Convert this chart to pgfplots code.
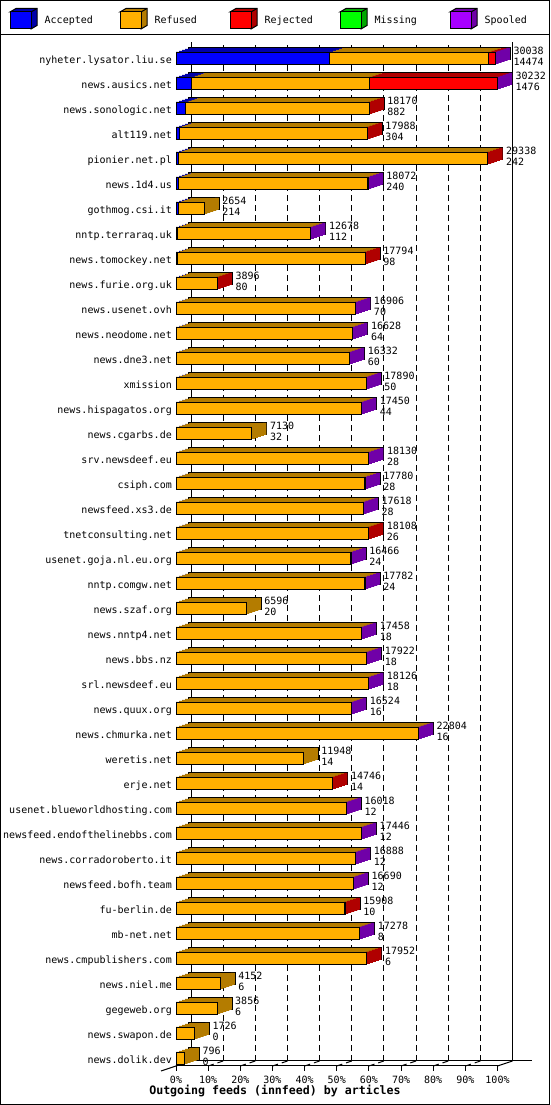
\documentclass[border=0pt]{standalone}
\usepackage{pgfplots}
\pgfplotsset{compat=1.18}
\usepackage{pgfplotstable}
\usepackage{fontspec}
\setmainfont{DejaVu Sans Mono}

\definecolor{accF}{RGB}{0,0,255}
\definecolor{accD}{RGB}{0,0,170}
\definecolor{refF}{RGB}{255,176,0}
\definecolor{refD}{RGB}{180,124,0}
\definecolor{rejF}{RGB}{255,0,0}
\definecolor{rejD}{RGB}{176,0,0}
\definecolor{misF}{RGB}{0,255,0}
\definecolor{misD}{RGB}{0,168,0}
\definecolor{spoF}{RGB}{168,0,255}
\definecolor{spoD}{RGB}{112,0,168}

% pos: 0 = bottom row; sO/sR/sP = 1 marks the colour of the 3D side face (last segment)
\pgfplotstableread{
pos name acc ref rej mis spo total sO sR sP
0 news.dolik.dev 0 796 0 0 0 796 1 0 0
1 news.swapon.de 0 1726 0 0 0 1726 1 0 0
2 gegeweb.org 6 3850 0 0 0 3856 1 0 0
3 news.niel.me 6 4146 0 0 0 4152 1 0 0
4 news.cmpublishers.com 6 17926 20 0 0 17952 0 1 0
5 mb-net.net 8 17250 0 0 20 17278 0 0 1
6 fu-berlin.de 10 15878 20 0 0 15908 0 1 0
7 newsfeed.bofh.team 12 16658 0 0 20 16690 0 0 1
8 news.corradoroberto.it 12 16856 0 0 20 16888 0 0 1
9 newsfeed.endofthelinebbs.com 12 17414 0 0 20 17446 0 0 1
10 usenet.blueworldhosting.com 12 15986 0 0 20 16018 0 0 1
11 erje.net 14 14712 20 0 0 14746 0 1 0
12 weretis.net 14 11934 0 0 0 11948 1 0 0
13 news.chmurka.net 16 22768 0 0 20 22804 0 0 1
14 news.quux.org 16 16488 0 0 20 16524 0 0 1
15 srl.newsdeef.eu 18 18088 0 0 20 18126 0 0 1
16 news.bbs.nz 18 17884 0 0 20 17922 0 0 1
17 news.nntp4.net 18 17420 0 0 20 17458 0 0 1
18 news.szaf.org 20 6576 0 0 0 6596 1 0 0
19 nntp.comgw.net 24 17738 0 0 20 17782 0 0 1
20 usenet.goja.nl.eu.org 24 16422 0 0 20 16466 0 0 1
21 tnetconsulting.net 26 18062 20 0 0 18108 0 1 0
22 newsfeed.xs3.de 28 17570 0 0 20 17618 0 0 1
23 csiph.com 28 17732 0 0 20 17780 0 0 1
24 srv.newsdeef.eu 28 18082 0 0 20 18130 0 0 1
25 news.cgarbs.de 32 7098 0 0 0 7130 1 0 0
26 news.hispagatos.org 44 17386 0 0 20 17450 0 0 1
27 xmission 50 17820 0 0 20 17890 0 0 1
28 news.dne3.net 60 16252 0 0 20 16332 0 0 1
29 news.neodome.net 64 16544 0 0 20 16628 0 0 1
30 news.usenet.ovh 70 16816 0 0 20 16906 0 0 1
31 news.furie.org.uk 80 3796 20 0 0 3896 0 1 0
32 news.tomockey.net 98 17676 20 0 0 17794 0 1 0
33 nntp.terraraq.uk 112 12546 0 0 20 12678 0 0 1
34 gothmog.csi.it 214 2440 0 0 0 2654 1 0 0
35 news.1d4.us 240 17812 0 0 20 18072 0 0 1
36 pionier.net.pl 242 29076 20 0 0 29338 0 1 0
37 alt119.net 304 17664 20 0 0 17988 0 1 0
38 news.sonologic.net 882 17268 20 0 0 18170 0 1 0
39 news.ausics.net 1476 16709 12017 0 30 30232 0 0 1
40 nyheter.lysator.liu.se 14474 14901 633 0 30 30038 0 0 1
}\data

\pgfplotsset{
  base/.style={anchor=south west, scale only axis, width=321.5pt, height=1019pt,
    xmin=0, xmax=30232, ymin=-0.28, ymax=40.48, enlargelimits=false, clip=false,
    bar width=12pt, scaled x ticks=false, scaled y ticks=false},
}

% one slice of the extruded (3D) part of the bars
\newcommand{\backcopy}[2]{%
\begin{axis}[base, at={(#1,#2)}, hide axis, xbar stacked]
\addplot[fill=accD, draw=none] table[x=acc, y=pos]{\data};
\addplot[fill=refD, draw=none] table[x=ref, y=pos]{\data};
\addplot[fill=rejD, draw=none] table[x=rej, y=pos]{\data};
\addplot[fill=misD, draw=none] table[x=mis, y=pos]{\data};
\addplot[fill=spoD, draw=none] table[x=spo, y=pos]{\data};
\addplot[fill=refD, draw=none] table[x expr=\thisrow{sO}*282, y=pos]{\data};
\addplot[fill=rejD, draw=none] table[x expr=\thisrow{sR}*282, y=pos]{\data};
\addplot[fill=spoD, draw=none] table[x expr=\thisrow{sP}*282, y=pos]{\data};
\end{axis}}

% side-face patch of one slice (covers seams)
\newcommand{\sidepatch}[3]{%
\begin{axis}[base, at={(#1,#2)}, hide axis, xbar stacked]
\addplot[draw=none, fill=none] table[x expr=\thisrow{total}-94, y=pos]{\data};
\addplot[fill=refD, draw=none] table[x expr=\thisrow{sO}*#3, y=pos]{\data};
\addplot[fill=rejD, draw=none] table[x expr=\thisrow{sR}*#3, y=pos]{\data};
\addplot[fill=spoD, draw=none] table[x expr=\thisrow{sP}*#3, y=pos]{\data};
\end{axis}}

\begin{document}
\begin{tikzpicture}[x=1pt, y=1pt, font=\fontsize{10}{12}\selectfont]
\useasboundingbox (0,0) rectangle (550,1105);

% back wall: grid lines and floor
\begin{axis}[base, at={(191pt,44pt)}, axis line style={draw=none}, ytick=\empty,
  xtick={3023.2,6046.4,9069.6,12092.8,15116,18139.2,21162.4,24185.6,27208.8},
  xticklabels={}, tick style={draw=none}, major tick length=0pt,
  xmajorgrids, grid style={black, line width=1pt, dash pattern=on 6pt off 4pt},
  extra x ticks={0,30232}, extra x tick labels={},
  extra x tick style={grid=major, grid style={solid, black, line width=1pt}}]
\addplot[draw=none, mark=none] coordinates {(0,0)};
\draw[line width=1pt] (axis cs:0,-0.28) -- ++(341pt,0pt);
\draw[line width=1pt] (axis cs:30232,-0.28) -- ++(-15pt,-5pt);
\draw[line width=1pt] (axis cs:0,-0.28) -- ++(-30pt,-10pt);
\pgfplotsinvokeforeach{3023.2,6046.4,9069.6,12092.8,15116,18139.2,21162.4,24185.6,27208.8}{
  \draw[line width=1pt, dash pattern=on 6pt off 4pt] (axis cs:#1,-0.28) -- ++(-15pt,-5pt);
}
\end{axis}

% extruded 3D part of the bars
\backcopy{188pt}{44pt}
\begin{axis}[base, at={(188pt,44pt)}, hide axis, xbar]
\addplot[fill=none, draw=black, line width=1pt] table[x expr=\thisrow{total}+282, y=pos]{\data};
\end{axis}
\backcopy{185pt}{43pt}
\backcopy{182pt}{42pt}
\backcopy{179pt}{41pt}
\backcopy{176pt}{40pt}
\sidepatch{188pt}{44pt}{329}
\sidepatch{185pt}{43pt}{376}
\sidepatch{182pt}{42pt}{376}
\sidepatch{179pt}{41pt}{376}
\sidepatch{176pt}{40pt}{376}

% front faces
\begin{axis}[base, at={(176pt,39pt)}, xbar stacked,
  axis lines*=left, y axis line style={draw=none}, x axis line style={black, line width=1pt},
  xtick={0,3023.2,6046.4,9069.6,12092.8,15116,18139.2,21162.4,24185.6,27208.8,30232},
  xticklabels={0\%,10\%,20\%,30\%,40\%,50\%,60\%,70\%,80\%,90\%,100\%},
  ytick={0,...,40}, yticklabels from table={\data}{name},
  tick align=outside, major tick length=5pt,
  xtick style={black, line width=1pt}, ytick style={draw=none},
  ticklabel style={font=\fontsize{10}{12}\selectfont},
  yticklabel style={anchor=base east, inner sep=0pt, xshift=1pt, yshift=-4.3pt},
  xticklabel style={anchor=base, inner sep=0pt, yshift=-12.4pt}]
\addplot[fill=accF, draw=black, line width=1pt] table[x=acc, y=pos]{\data};
\addplot[fill=refF, draw=black, line width=1pt] table[x=ref, y=pos]{\data};
\addplot[fill=rejF, draw=black, line width=1pt] table[x=rej, y=pos]{\data};
\addplot[fill=misF, draw=black, line width=1pt] table[x=mis, y=pos]{\data};
\addplot[fill=spoF, draw=black, line width=1pt] table[x=spo, y=pos]{\data};
\end{axis}

% value labels
\begin{axis}[base, at={(176pt,39pt)}, hide axis]
\addplot[draw=none, mark=none, nodes near coords, point meta=explicit symbolic,
  every node near coord/.append style={anchor=base west, inner sep=0pt, xshift=18pt, yshift=4pt,
    font=\fontsize{10}{12}\selectfont, text=black}]
  table[x=total, y=pos, meta=total]{\data};
\addplot[draw=none, mark=none, nodes near coords, point meta=explicit symbolic,
  every node near coord/.append style={anchor=base west, inner sep=0pt, xshift=18pt, yshift=-6.7pt,
    font=\fontsize{10}{12}\selectfont, text=black}]
  table[x=total, y=pos, meta=acc]{\data};
\end{axis}

% legend
\foreach \i/\lab/\cf/\cd in {0/Accepted/accF/accD, 1/Refused/refF/refD, 2/Rejected/rejF/rejD, 3/Missing/misF/misD, 4/Spooled/spoF/spoD}{
  \pgfmathsetmacro{\xa}{10+110*\i}
  \pgfmathsetmacro{\xb}{31+110*\i}
  \pgfmathsetmacro{\xt}{44.5+110*\i}
  \filldraw[fill=\cd, draw=black, line width=1pt] (\xa,1093) -- (\xa+6,1096.5) -- (\xb+6,1096.5) -- (\xb+6,1079.5) -- (\xb,1076) -- (\xb,1093) -- cycle;
  \filldraw[fill=\cf, draw=black, line width=1pt] (\xa,1076) rectangle (\xb,1093);
  \draw[line width=1pt] (\xb,1093) -- (\xb+6,1096.5);
  \node[anchor=base west, inner sep=0pt] at (\xt,1081) {\lab};
}

% title, frame
\node[anchor=base, inner sep=0pt, font=\bfseries\fontsize{11.6}{14}\selectfont] at (275,10) {Outgoing feeds (innfeed) by articles};
\draw[line width=1pt] (0.5,0.5) rectangle (549.5,1104.5);
\draw[line width=1pt] (0,1070) -- (550,1070);
\end{tikzpicture}
\end{document}
